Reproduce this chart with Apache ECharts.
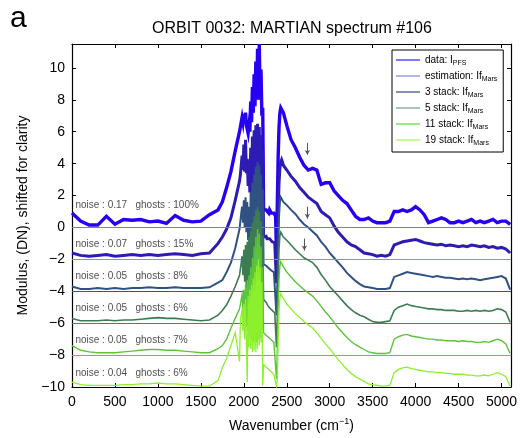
<!DOCTYPE html>
<html>
<head>
<meta charset="utf-8">
<script src="https://cdn.jsdelivr.net/npm/echarts@6/dist/echarts.min.js"></script>
<style>
  html, body { margin: 0; padding: 0; background: #fff; }
  #chart { width: 521px; height: 438px; }
</style>
</head>
<body>
<div id="chart"></div>
<script>
// Sampling positions (cm^-1) shared by every spectrum
const wavenumber = [
  0,100,200,300,400,500,600,700,800,900,1000,1100,1200,1300,1400,1500,1600,1700,
  1750,1800,1850,1900,1950,
  1960,1970,1980,1990,2000,2010,2020,2030,2040,2050,2060,2070,2080,2090,2100,2110,2120,2130,2140,2150,
  2160,2170,2180,2190,2200,2210,2220,2230,2240,2250,2260,2270,2280,2290,2300,2310,2320,2330,2340,2350,
  2360,2370,2380,2390,2400,2410,2420,2430,2440,2450,2460,
  2500,2550,2600,2650,2700,2750,2800,2850,2900,2950,3000,3050,3100,3150,3200,3250,3300,3350,3400,3450,
  3500,3550,3600,3650,3700,3750,3800,3850,3900,3950,4000,4050,4100,4150,4200,4250,4300,4350,4400,4450,
  4500,4550,4600,4650,4700,4750,4800,4850,4900,4950,5000,5050,5100
];

// Measured spectrum I_PFS (offset 0)
const dataPFS = [
  0.9,0.4,0.15,0.15,0.7,0.2,0.5,0.45,0.5,0.35,0.4,0.25,0.75,0.45,0.35,0.4,0.8,1.1,
  1.6,2.5,3.5,4.8,6.0,
  6.3,6.6,6.9,6.6,7.1, 6.5,7.2,6.4,6.5,5.9, 6.4,6.0,7.9,6.6,8.8, 7.2,9.6,7.6,10.4,8.0,
  11.2,8.5,11.5,8.0,9.9, 7.0,7.5,1.1,1.2,1.0, 1.1,1.2,1.0,0.9,1.1, 1.0,0.9,1.0,0.8,0.9,
  0.8,0.7,-1.5,1.5,4.5, 6.3,7.2,7.5,7.6,7.4, 7.2,
  6.4,5.5,5.0,4.4,3.9, 3.6,3.7,3.6,2.7,2.8, 2.8,2.3,2.0,1.7,1.5, 1.1,0.7,0.5,0.5,0.6,
  0.4,0.3,0.3,0.3,0.4, 1.0,1.0,1.1,1.0,1.1, 1.3,1.1,0.8,0.3,0.4, 0.5,0.6,0.5,0.3,0.3,
  0.4,0.3,0.4,0.5,0.3, 0.4,0.3,0.4,0.5,0.3, 0.4,0.4,0.2
];

// Estimated If_Mars (offset -2)
const estimation = [
  -1.6,-1.75,-1.8,-1.75,-1.7,-1.8,-1.75,-1.7,-1.75,-1.7,-1.75,-1.7,-1.65,-1.7,-1.75,-1.65,-1.6,-1.0,
  -0.6,-0.1,0.6,1.7,2.9,
  3.3,3.9,4.5,3.6,5.2, 3.5,5.5,3.4,4.3,2.6, 4.2,2.2,5.0,1.8,5.7, 1.5,6.1,1.2,6.4,1.0,
  6.5,1.2,6.3,1.0,5.8, 1.5,4.8,-0.6,-0.5,-0.6, -0.55,-0.7,-0.6,-0.75,-0.7, -0.8,-0.75,-0.9,-0.8,-0.9,
  -0.95,-1.0,-3.5,-1.5,1.0, 2.8,3.7,4.1,4.25,4.1, 3.9,
  3.6,3.2,2.9,2.5,2.2, 1.9,1.7,1.5,1.0,0.8, 0.6,0.1,-0.3,-0.6,-0.9, -1.1,-1.2,-1.4,-1.6,-1.65,
  -1.7,-1.8,-1.75,-1.8,-1.7, -1.1,-1.0,-0.9,-0.85,-0.8, -0.75,-0.85,-0.95,-1.0,-1.05, -1.1,-1.05,-1.15,-1.1,-1.15,
  -1.2,-1.15,-1.2,-1.1,-1.15, -1.2,-1.15,-1.25,-1.2,-1.3, -1.25,-1.35,-1.6
];

// 3-spectrum stack (offset -4)
const stack3 = [
  -3.7,-3.85,-3.85,-3.8,-3.85,-3.8,-3.85,-3.8,-3.8,-3.75,-3.8,-3.8,-3.75,-3.8,-3.8,-3.8,-3.75,-3.45,
  -3.3,-2.8,-2.2,-1.3,-0.1,
  0.4,0.9,1.3,0.3,1.7, 0.0,1.9,-0.3,1.6,-0.8, 1.3,-1.0,2.2,-1.2,2.8, -1.5,3.3,-1.6,3.8,-1.8,
  4.1,-1.6,3.9,-1.5,3.3, -1.2,2.4,-2.3,-2.3,-2.35, -2.4,-2.5,-2.45,-2.55,-2.6, -2.6,-2.7,-2.7,-2.75,-2.8,
  -2.85,-2.9,-5.5,-3.5,-1.0, 0.7,1.6,1.9,1.95,1.8, 1.6,
  1.4,1.1,0.85,0.5,0.2, 0.0,-0.25,-0.5,-0.9,-1.2, -1.6,-1.9,-2.2,-2.5,-2.85, -3.1,-3.35,-3.55,-3.7,-3.75,
  -3.8,-3.85,-3.85,-3.85,-3.8, -3.1,-3.0,-2.9,-2.8,-2.85, -2.9,-2.95,-3.0,-3.05,-3.1, -3.05,-3.1,-3.15,-3.15,-3.2,
  -3.25,-3.2,-3.25,-3.2,-3.25, -3.3,-3.25,-3.2,-3.15,-3.1, -3.05,-3.2,-3.9
];

// 5-spectrum stack (offset -6)
const stack5 = [
  -5.7,-5.85,-5.85,-5.85,-5.8,-5.85,-5.8,-5.8,-5.75,-5.7,-5.65,-5.7,-5.7,-5.75,-5.8,-5.85,-5.8,-5.5,
  -5.2,-4.85,-4.3,-3.7,-3.0,
  -2.6,-2.2,-1.8,-3.0,-1.4, -3.4,-1.1,-3.8,-0.9,-4.2, -0.6,-4.5,-0.2,-4.6,0.3, -4.8,0.7,-4.7,1.1,-4.8,
  1.3,-4.6,1.0,-4.5,0.4, -4.0,-0.5,-4.5,-4.5,-4.6, -4.7,-4.8,-4.9,-5.0,-5.05, -5.1,-5.15,-5.2,-5.25,-5.3,
  -5.35,-5.4,-7.5,-5.5,-3.0, -1.3,-0.5,-0.3,-0.25,-0.4, -0.6,
  -0.8,-1.1,-1.4,-1.65,-1.9, -2.05,-2.2,-2.5,-2.95,-3.3, -3.7,-4.0,-4.3,-4.6,-4.9, -5.15,-5.35,-5.5,-5.6,-5.75,
  -5.9,-5.95,-5.95,-5.9,-5.85, -5.2,-5.0,-4.9,-4.8,-4.9, -4.95,-5.0,-5.05,-5.1,-5.1, -5.15,-5.15,-5.2,-5.2,-5.2,
  -5.25,-5.25,-5.2,-5.25,-5.2, -5.25,-5.2,-5.25,-5.2,-5.1, -5.15,-5.3,-5.95
];

// 11-spectrum stack (offset -8)
const stack11 = [
  -7.4,-7.7,-7.8,-7.85,-7.85,-7.85,-7.8,-7.75,-7.7,-7.65,-7.65,-7.7,-7.7,-7.75,-7.8,-7.85,-7.85,-7.6,
  -7.4,-7.0,-6.3,-5.7,-5.1,
  -4.8,-4.5,-4.2,-5.3,-3.9, -5.8,-3.6,-6.2,-3.3,-6.5, -3.0,-6.8,-2.5,-7.0,-1.9, -7.2,-1.2,-7.0,-0.6,-7.2,
  -0.1,-7.0,-0.4,-6.9,-1.2, -6.5,-2.5,-6.6,-6.6,-6.7, -6.75,-6.8,-6.85,-6.9,-6.95, -7.0,-7.05,-7.1,-7.15,-7.2,
  -7.25,-7.3,-9.5,-7.6,-5.0, -3.2,-2.4,-2.15,-2.1,-2.25, -2.45,
  -2.8,-3.1,-3.4,-3.65,-3.9, -4.1,-4.3,-4.6,-4.95,-5.3, -5.6,-5.95,-6.3,-6.6,-6.9, -7.15,-7.35,-7.5,-7.65,-7.8,
  -7.85,-7.9,-7.9,-7.9,-7.85, -7.0,-6.85,-6.75,-6.7,-6.8, -6.85,-6.9,-6.95,-7.0,-7.0, -7.05,-7.05,-7.1,-7.1,-7.1,
  -7.15,-7.1,-7.15,-7.15,-7.2, -7.2,-7.15,-7.2,-7.1,-7.0, -7.1,-7.3,-7.9
];

// 19-spectrum stack (offset -10)
const stack19 = [
  -9.7,-9.85,-9.9,-9.9,-9.9,-9.9,-9.85,-9.85,-9.8,-9.8,-9.75,-9.8,-9.8,-9.85,-9.9,-9.95,-9.95,-9.6,
  -8.8,-8.2,-7.4,-6.6,-8.4,
  -5.8,-5.5,-5.2,-6.5,-4.8, -7.0,-4.5,-7.3,-9.7,-4.3, -7.5,-3.9,-7.6,-3.6,-7.8, -3.2,-7.7,-2.8,-7.8,-2.4,
  -7.6,-2.0,-7.4,-2.5,-7.2, -3.4,-9.9,-8.6,-8.6,-8.65, -8.75,-8.8,-8.85,-8.9,-8.95, -9.0,-9.05,-9.1,-9.15,-9.2,
  -9.25,-9.3,-9.95,-9.5,-7.0, -5.2,-4.4,-4.15,-4.1,-4.25, -4.45,
  -4.8,-5.1,-5.4,-5.65,-5.9, -6.1,-6.3,-6.6,-6.95,-7.3, -7.6,-7.95,-8.3,-8.6,-8.9, -9.15,-9.35,-9.5,-9.65,-9.8,
  -9.85,-9.9,-9.95,-9.95,-9.9, -9.1,-8.9,-8.8,-8.75,-8.85, -8.9,-8.95,-9.0,-9.05,-9.05, -9.1,-9.1,-9.15,-9.15,-9.2,
  -9.2,-9.2,-9.25,-9.25,-9.3, -9.3,-9.25,-9.3,-9.2,-9.1, -9.2,-9.35,-9.95
];

const seriesNames = ['data: I_PFS', 'estimation: If_Mars', '3 stack: If_Mars', '5 stack: If_Mars', '11 stack: If_Mars', '19 stack: If_Mars'];
const seriesValues = [dataPFS, estimation, stack3, stack5, stack11, stack19];
const baselines = [0, -2, -4, -6, -8, -10];

// Noise / ghost annotations, one per spectrum
const noiseLabels = [
  'noise : 0.17   ghosts : 100%',
  'noise : 0.07   ghosts : 15%',
  'noise : 0.05   ghosts : 8%',
  'noise : 0.05   ghosts : 6%',
  'noise : 0.05   ghosts : 7%',
  'noise : 0.04   ghosts : 6%'
];
const noiseLabelY = [1.38, -1.06, -3.08, -5.08, -7.1, -9.12];
const noiseLabelX = 40;

// Down arrows marking a feature: [wavenumber, from, to]
const arrowMarks = [[2740, 5.3, 4.55], [2740, 1.3, 0.55], [2705, -0.7, -1.45]];

// Styling
const lineColors = ['#2600f2', '#2c1cb4', '#2f5283', '#3d7b52', '#5cc33b', '#8cf02c'];
const lineWidths = [3.4, 3.0, 2.0, 1.6, 1.4, 1.3];
const baseColors = ['#7474f4', '#8a8ae4', '#33558a', '#45855a', '#62c444', '#8cf02c'];
const legendColors = ['#3434ff', '#8c8ce6', '#44548c', '#7fa38d', '#66dd44', '#a4ff4c'];

const FONT = 'Liberation Sans, Arial, Helvetica, sans-serif';
const chart = echarts.init(document.getElementById('chart'), null, { renderer: 'canvas' });

const lineSeries = seriesNames.map((name, k) => {
  const markData = [];
  if (baselines[k] > -10) {
    markData.push({ yAxis: baselines[k], lineStyle: { color: baseColors[k], width: 1, type: 'solid' } });
  }
  if (k === 0) {
    arrowMarks.forEach(a => {
      markData.push([
        { coord: [a[0], a[1]], symbol: 'none', lineStyle: { color: '#555', width: 1, type: 'solid' } },
        { coord: [a[0], a[2]], symbol: 'arrow', symbolSize: [4, 5] }
      ]);
    });
  }
  return {
    type: 'line',
    name: name,
    data: wavenumber.map((w, i) => [w, seriesValues[k][i]]),
    symbol: 'none',
    showSymbol: false,
    animation: false,
    lineStyle: { color: lineColors[k], width: lineWidths[k], join: 'miter' },
    itemStyle: { color: lineColors[k] },
    markLine: {
      silent: true,
      symbol: 'none',
      label: { show: false },
      animation: false,
      data: markData
    },
    z: 2 + k
  };
});

const notesSeries = {
  type: 'scatter',
  name: 'notes',
  symbolSize: 0,
  silent: true,
  data: noiseLabelY.map((y, i) => ({ value: [noiseLabelX, y], text: noiseLabels[i] })),
  label: {
    show: true,
    position: 'right',
    distance: 0,
    formatter: p => p.data.text,
    fontSize: 10,
    fontFamily: FONT,
    color: '#222'
  },
  z: 20
};

const axisCommon = {
  axisLine: { show: true, onZero: false, lineStyle: { color: '#000', width: 1.2 } },
  axisTick: { show: true, inside: true, length: 4, lineStyle: { color: '#000', width: 1 } },
  splitLine: { show: false }
};

const option = {
  animation: false,
  backgroundColor: '#fff',
  textStyle: { fontFamily: FONT },
  grid: { left: 72, right: 10, top: 44, bottom: 50, containLabel: false },
  graphic: [
    { type: 'text', x: 292, y: 29, style: { text: 'ORBIT 0032: MARTIAN spectrum #106', fontSize: 16, fontFamily: FONT, fill: '#000', align: 'center', verticalAlign: 'middle' } },
    { type: 'text', x: 10, y: 19, style: { text: 'a', fontSize: 30, fontFamily: FONT, fill: '#000', align: 'left', verticalAlign: 'middle' } }
  ],
  legend: {
    orient: 'vertical',
    left: 392,
    top: 50,
    backgroundColor: '#fff',
    borderColor: '#000',
    borderWidth: 1,
    borderRadius: 0,
    padding: [5, 6, 5, 4],
    icon: 'rect',
    itemWidth: 24,
    itemHeight: 1.3,
    itemGap: 4,
    selectedMode: false,
    data: seriesNames.map((n, k) => ({ name: n, itemStyle: { color: legendColors[k], borderWidth: 0 } })),
    formatter: n => {
      const parts = n.split('_');
      return '{m|' + parts[0] + '}{s|' + parts[1] + '}';
    },
    textStyle: {
      color: '#000',
      fontFamily: FONT,
      rich: {
        m: { fontSize: 10, lineHeight: 14, fontFamily: FONT, color: '#000' },
        s: { fontSize: 7, lineHeight: 7, verticalAlign: 'bottom', fontFamily: FONT, color: '#000' }
      }
    }
  },
  xAxis: [
    Object.assign({}, axisCommon, {
      type: 'value', min: 0, max: 5110, interval: 500, position: 'bottom',
      axisLabel: { color: '#000', fontSize: 14, fontFamily: FONT, margin: 8, showMaxLabel: false, formatter: v => String(v) },
      name: '{n|Wavenumber (cm}{p|\u22121}{n|)}',
      nameLocation: 'middle',
      nameGap: 30,
      nameTextStyle: {
        color: '#000',
        rich: {
          n: { fontSize: 14, lineHeight: 18, fontFamily: FONT, color: '#000' },
          p: { fontSize: 9, lineHeight: 9, verticalAlign: 'top', fontFamily: FONT, color: '#000' }
        }
      }
    }),
    Object.assign({}, axisCommon, {
      type: 'value', min: 0, max: 5110, interval: 500, position: 'top',
      axisLabel: { show: false }
    })
  ],
  yAxis: [
    Object.assign({}, axisCommon, {
      type: 'value', min: -10, max: 11.5, interval: 2, position: 'left',
      axisLabel: {
        color: '#000', fontSize: 14, fontFamily: FONT, margin: 7, showMaxLabel: false,
        formatter: v => (v < 0 ? '\u2212' + Math.abs(v) : String(v))
      },
      name: 'Modulus, (DN), shifted for clarity',
      nameLocation: 'middle',
      nameGap: 42,
      nameTextStyle: { color: '#000', fontSize: 14, fontFamily: FONT }
    }),
    Object.assign({}, axisCommon, {
      type: 'value', min: -10, max: 11.5, interval: 2, position: 'right',
      axisLabel: { show: false }
    })
  ],
  series: lineSeries.concat([notesSeries])
};

chart.setOption(option);
</script>
</body>
</html>
